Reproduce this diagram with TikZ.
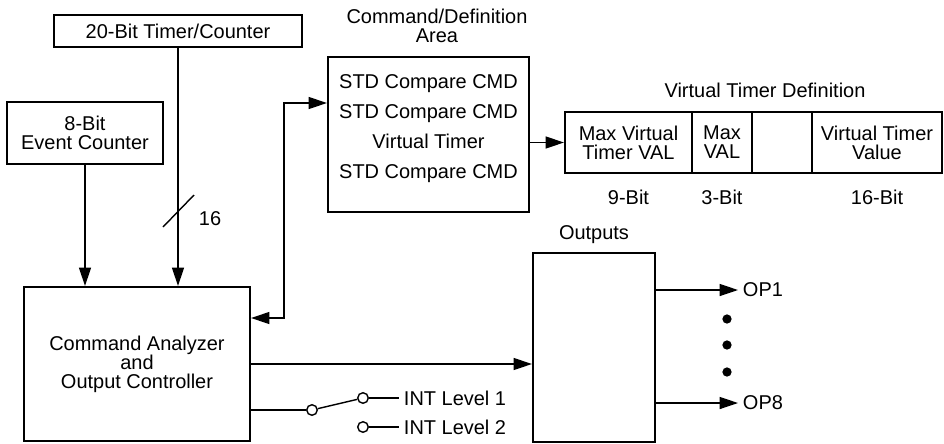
\documentclass[tikz,border=0pt]{standalone}
\usepackage{fontspec}
\setmainfont{Liberation Sans}
\usetikzlibrary{arrows.meta, calc}

\begin{document}
\begin{tikzpicture}[x=0.025cm, y=-0.025cm,
    every node/.style={font=\fontsize{14.2}{13.5}\selectfont},
    block/.style={draw, rectangle, line width=1.5pt, inner sep=0pt, align=center},
    field/.style={block, minimum height=1.525cm},
    arrow/.style={-{Triangle[length=13pt, width=8.5pt]}, line width=1pt},
    biarrow/.style={{Triangle[length=13pt, width=8.5pt]}-{Triangle[length=13pt, width=8.5pt]}, line width=1pt},
    wire/.style={line width=1pt},
    pin/.style={draw, circle, line width=1pt, fill=white, inner sep=0pt, minimum size=7.5pt}
]
    \useasboundingbox (0,0) rectangle (944,443);

    % Counters
    \node (timer) [block, minimum width=6.2cm, minimum height=0.8cm] at (178,31) {20-Bit Timer/Counter};
    \node (event) [block, minimum width=3.9cm, minimum height=1.55cm] at (85,133) {8-Bit\\Event Counter};

    % Command Analyzer
    \node (analyzer) [block, minimum width=5.65cm, minimum height=3.85cm] at (137,364) {Command Analyzer\\and\\Output Controller};

    % Command/Definition Area
    \node (cmdtitle) [align=center] at (437,26) {Command/Definition\\Area};
    \node (cmdarea) [block, minimum width=5.025cm, minimum height=3.875cm] at (428.5,134.5) {};
    \node (cmdlist) [align=center, font=\fontsize{14.2}{21.3}\selectfont] at (428.5,128.5) {STD Compare CMD\\STD Compare CMD\\Virtual Timer\\STD Compare CMD};

    % Virtual Timer Definition
    \node (vtdtitle) at (765,90) {Virtual Timer Definition};
    \node (maxvt) [field, minimum width=3.175cm] at (628.5,142.5) {Max Virtual\\Timer VAL};
    \node (maxval) [field, minimum width=1.5cm] at (722,142.5) {Max\\VAL};
    \node (spare) [field, minimum width=1.5cm] at (782,142.5) {};
    \node (vtval) [field, minimum width=3.25cm] at (877,142.5) {Virtual Timer\\Value};
    \node (bits9) at (628.5,197) {9-Bit};
    \node (bits3) at (722,197) {3-Bit};
    \node (bits16) at (877,197) {16-Bit};

    % Outputs
    \node (outtitle) at (594,235) {Outputs};
    \node (outputs) [block, minimum width=3.05cm, minimum height=4.725cm] at (594,347.5) {};
    \node (op1) [anchor=west] at (738,290) {OP1};
    \node (op8) [anchor=west] at (738,403) {OP8};
    \foreach \y in {319,345,372}
        \fill (727,\y) circle [radius=3.3pt];

    % Interrupt switch
    \node (swin) [pin] at (312,410) {};
    \node (pin1) [pin] at (363,398) {};
    \node (pin2) [pin] at (363,427) {};
    \node (int1) [anchor=west] at (399,398) {INT Level 1};
    \node (int2) [anchor=west] at (399,427) {INT Level 2};

    % Connections
    \draw [arrow] (event) -- (event |- analyzer.north);
    \draw [arrow] (timer) -- (timer |- analyzer.north);
    \coordinate (bus) at (178,211);
    \draw [wire] ($(bus)+(-15,16)$) -- ($(bus)+(16,-16)$);
    \node (buswidth) at (210,219) {16};
    \draw [biarrow] ($(analyzer.east)+(0,-46)$) -- ++(33,0) |- ($(cmdarea.west)+(0,-31.5)$);
    \draw [arrow] (cmdarea.east |- maxvt.west) -- (maxvt.west);
    \draw [arrow] (analyzer.east) -- (analyzer.east -| outputs.west);
    \draw [arrow] (outputs.east |- op1) -- (op1);
    \draw [arrow] (outputs.east |- op8) -- (op8);
    \draw [wire] ($(analyzer.east)+(0,46)$) -- (swin);
    \draw [wire] (swin) -- (pin1);
    \draw [wire] (pin1) -- (int1);
    \draw [wire] (pin2) -- (int2);
\end{tikzpicture}
\end{document}
